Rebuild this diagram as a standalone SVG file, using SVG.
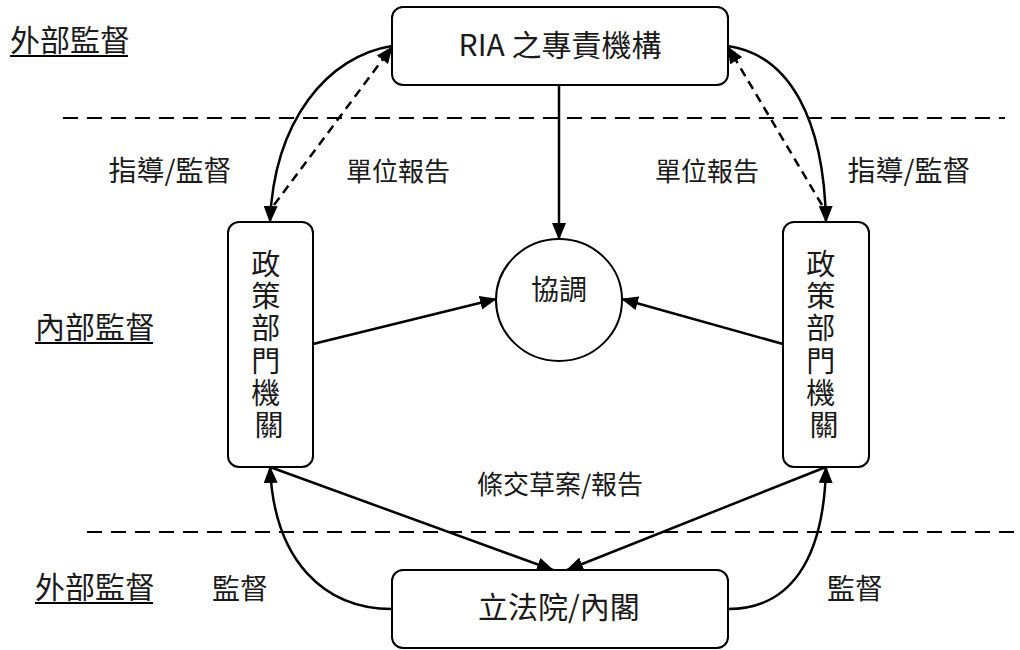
<svg xmlns="http://www.w3.org/2000/svg" width="1020" height="650" viewBox="0 0 1020 650">
<style>
  .box { fill: #fff; stroke: #000; stroke-width: 2; }
  .t { font-family: "Noto Sans CJK TC", "Noto Sans CJK SC", sans-serif; fill: #1a1a1a; }
  .sep { stroke: #000; stroke-width: 2; stroke-dasharray: 15 9; fill: none; }
  .c { fill: none; stroke: #000; stroke-width: 2.5; }
  .d { fill: none; stroke: #000; stroke-width: 2.5; stroke-dasharray: 9 6; }
  .ul { stroke: #000; stroke-width: 2; }
</style>
<defs>
  <marker id="ah" markerUnits="userSpaceOnUse" markerWidth="17" markerHeight="14" refX="16" refY="7" orient="auto">
    <path d="M0,0 L17,7 L0,14 z" fill="#000"/>
  </marker>
</defs>
<rect width="1020" height="650" fill="#fff"/>

<g id="separators">
  <line class="sep" x1="63" y1="118" x2="1005" y2="118"/>
  <line class="sep" x1="87" y1="532" x2="1020" y2="532"/>
</g>

<g id="section-labels">
  <text class="t" x="10" y="51" font-size="30">外部監督</text>
  <line class="ul" x1="10" y1="56" x2="128" y2="56"/>
  <text class="t" x="35" y="338" font-size="30">內部監督</text>
  <line class="ul" x1="35" y1="343" x2="153" y2="343"/>
  <text class="t" x="35" y="598" font-size="30">外部監督</text>
  <line class="ul" x1="35" y1="603" x2="153" y2="603"/>
</g>

<g id="connectors">
  <path class="c" d="M392,46 C328,56 274,120 270,222" marker-end="url(#ah)"/>
  <path class="d" d="M274,205 L392,47" marker-end="url(#ah)"/>
  <path class="c" d="M728,46 C790,55 824,120 826,222" marker-end="url(#ah)"/>
  <path class="d" d="M822,205 L728,47" marker-end="url(#ah)"/>
  <path class="c" d="M559,85 L559,239" marker-end="url(#ah)"/>
  <path class="c" d="M313,344 L496,299" marker-end="url(#ah)"/>
  <path class="c" d="M783,344 L622,299" marker-end="url(#ah)"/>
  <path class="c" d="M270,467 L553,570" marker-end="url(#ah)"/>
  <path class="c" d="M826,467 L567,570" marker-end="url(#ah)"/>
  <path class="c" d="M392,609 C325,609 274,562 270,467" marker-end="url(#ah)"/>
  <path class="c" d="M728,609 C790,609 824,560 826,467" marker-end="url(#ah)"/>
</g>

<g id="edge-labels">
  <text class="t" x="170" y="181" font-size="28" text-anchor="middle">指導/監督</text>
  <text class="t" x="398" y="181" font-size="26" text-anchor="middle">單位報告</text>
  <text class="t" x="707" y="181" font-size="26" text-anchor="middle">單位報告</text>
  <text class="t" x="909" y="181" font-size="28" text-anchor="middle">指導/監督</text>
  <text class="t" x="560" y="494" font-size="26" text-anchor="middle">條交草案/報告</text>
  <text class="t" x="240" y="599" font-size="28" text-anchor="middle">監督</text>
  <text class="t" x="855" y="599" font-size="28" text-anchor="middle">監督</text>
</g>

<g id="node-ria">
  <rect class="box" x="392" y="7" width="336" height="78" rx="11"/>
  <text class="t" x="560" y="56" font-size="30" text-anchor="middle">RIA 之專責機構</text>
</g>

<g id="node-coord">
  <ellipse class="box" cx="559" cy="300" rx="63" ry="61"/>
  <text class="t" x="559" y="300" font-size="28" text-anchor="middle">協調</text>
</g>

<g id="node-left-agency">
  <rect class="box" x="228" y="222" width="85" height="245" rx="11"/>
  <text class="t" font-size="29" text-anchor="middle">
    <tspan x="269" y="275">政</tspan>
    <tspan x="269" y="307">策</tspan>
    <tspan x="269" y="339">部</tspan>
    <tspan x="269" y="372">門</tspan>
    <tspan x="269" y="404">機</tspan>
    <tspan x="269" y="436">關</tspan>
  </text>
</g>

<g id="node-right-agency">
  <rect class="box" x="783" y="222" width="86" height="245" rx="11"/>
  <text class="t" font-size="29" text-anchor="middle">
    <tspan x="824" y="275">政</tspan>
    <tspan x="824" y="307">策</tspan>
    <tspan x="824" y="339">部</tspan>
    <tspan x="824" y="372">門</tspan>
    <tspan x="824" y="404">機</tspan>
    <tspan x="824" y="436">關</tspan>
  </text>
</g>

<g id="node-legislature">
  <rect class="box" x="392" y="570" width="336" height="78" rx="11"/>
  <text class="t" x="559" y="618" font-size="30" text-anchor="middle">立法院/內閣</text>
</g>
</svg>
